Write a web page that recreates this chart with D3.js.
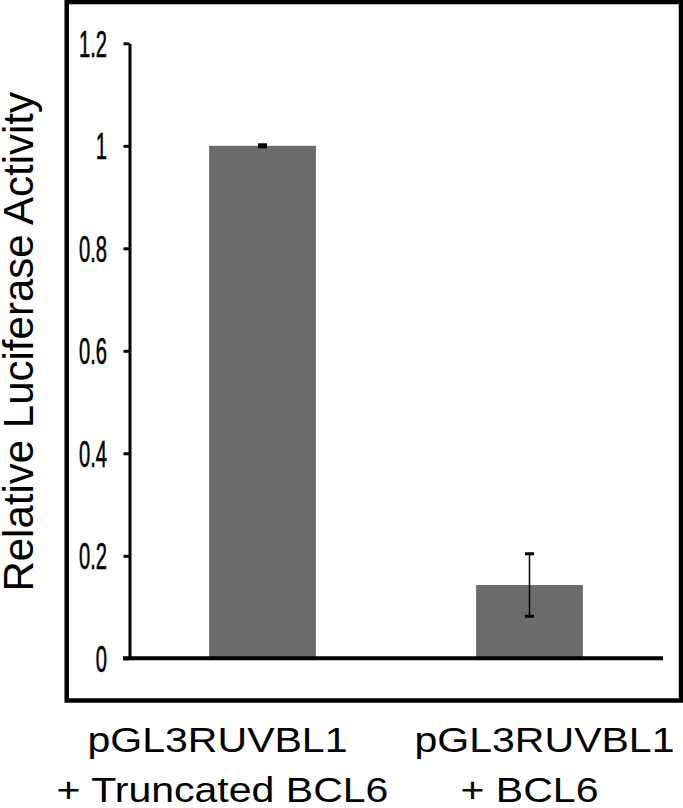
<!DOCTYPE html>
<html>
<head>
<meta charset="utf-8">
<script src="https://cdn.jsdelivr.net/npm/d3@7"></script>
<style>
  html, body { margin: 0; padding: 0; background: #fff; }
  svg { display: block; font-family: "Liberation Sans", Arial, sans-serif; }
</style>
</head>
<body>
<svg id="chart" width="683" height="808"></svg>
<script>
// data
const categories = ["pGL3RUVBL1|+ Truncated BCL6", "pGL3RUVBL1|+ BCL6"];
const values = [1.0, 0.143];
const errors = [0.002, 0.061];
const yTicks = [0, 0.2, 0.4, 0.6, 0.8, 1, 1.2];
const yTitle = "Relative Luciferase Activity";

const width = 683, height = 808;
const svg = d3.select("#chart");

// outer frame
svg.append("rect")
    .attr("x", 66.7).attr("y", 2)
    .attr("width", 614.3).attr("height", 698.5)
    .attr("fill", "none")
    .attr("stroke", "#000")
    .attr("stroke-width", 4.5);

const x = d3.scaleBand()
    .domain(categories)
    .range([129, 663])
    .paddingInner(0.6)
    .paddingOuter(0.3);

const y = d3.scaleLinear()
    .domain([0, 1.2])
    .range([658.3, 43.3]);

// bars
svg.selectAll("rect.bar")
    .data(categories)
    .enter()
    .append("rect")
    .attr("class", "bar")
    .attr("x", d => x(d))
    .attr("width", x.bandwidth())
    .attr("y", (d, i) => y(values[i]))
    .attr("height", (d, i) => y(0) - y(values[i]))
    .attr("fill", "#6b6b6b");

// error bars
const eb = svg.selectAll("g.err")
    .data(categories)
    .enter()
    .append("g")
    .attr("class", "err")
    .attr("transform", d => `translate(${x(d) + x.bandwidth() / 2},0)`);

eb.append("line")
    .attr("y1", (d, i) => y(values[i] - errors[i]))
    .attr("y2", (d, i) => y(values[i] + errors[i]))
    .attr("stroke", "#000")
    .attr("stroke-width", 1.5);

eb.selectAll("line.cap")
    .data((d, i) => [values[i] - errors[i], values[i] + errors[i]])
    .enter()
    .append("line")
    .attr("class", "cap")
    .attr("x1", -4.5).attr("x2", 4.5)
    .attr("y1", d => y(d)).attr("y2", d => y(d))
    .attr("stroke", "#000")
    .attr("stroke-width", 3);

// y axis
const yAxis = svg.append("g")
    .attr("transform", "translate(129.5,0)")
    .call(d3.axisLeft(y)
        .tickValues(yTicks)
        .tickFormat(d => String(+d.toFixed(1)))
        .tickSize(6)
        .tickSizeOuter(0));

yAxis.select(".domain").attr("stroke", "#000").attr("stroke-width", 3);
yAxis.selectAll(".tick line").attr("stroke", "#000").attr("stroke-width", 3);
yAxis.selectAll(".tick text")
    .attr("x", null)
    .attr("dy", "0.36em")
    .attr("transform", "translate(-22.5,0) scale(0.56,1)")
    .attr("fill", "#000")
    .attr("stroke", "#000")
    .attr("stroke-width", 0.6)
    .style("font-size", "36px")
    .style("font-family", "'Liberation Sans', Arial, sans-serif");

// x axis line
svg.append("line")
    .attr("x1", x.range()[0] - 6).attr("x2", x.range()[1])
    .attr("y1", y(0)).attr("y2", y(0))
    .attr("stroke", "#000")
    .attr("stroke-width", 4);

// category labels
const lineOffsets = [[-45, -40], [15, 0]];
const labels = svg.selectAll("g.xlabel")
    .data(categories)
    .enter()
    .append("g")
    .attr("class", "xlabel");

labels.each(function (d, i) {
    const g = d3.select(this);
    d.split("|").forEach((t, j) => {
        g.append("text")
            .attr("transform", `translate(${x(d) + x.bandwidth() / 2 + lineOffsets[i][j]},${752 + j * 50}) scale(1.14,1)`)
            .attr("text-anchor", "middle")
            .style("font-size", "36px")
            .attr("fill", "#000")
            .text(t);
    });
});

// y title
svg.append("text")
    .attr("transform", `translate(33,${(y(0) + y(1.2)) / 2 - 9}) rotate(-90)`)
    .attr("text-anchor", "middle")
    .style("font-size", "42px")
    .attr("fill", "#000")
    .text(yTitle);
</script>
</body>
</html>
